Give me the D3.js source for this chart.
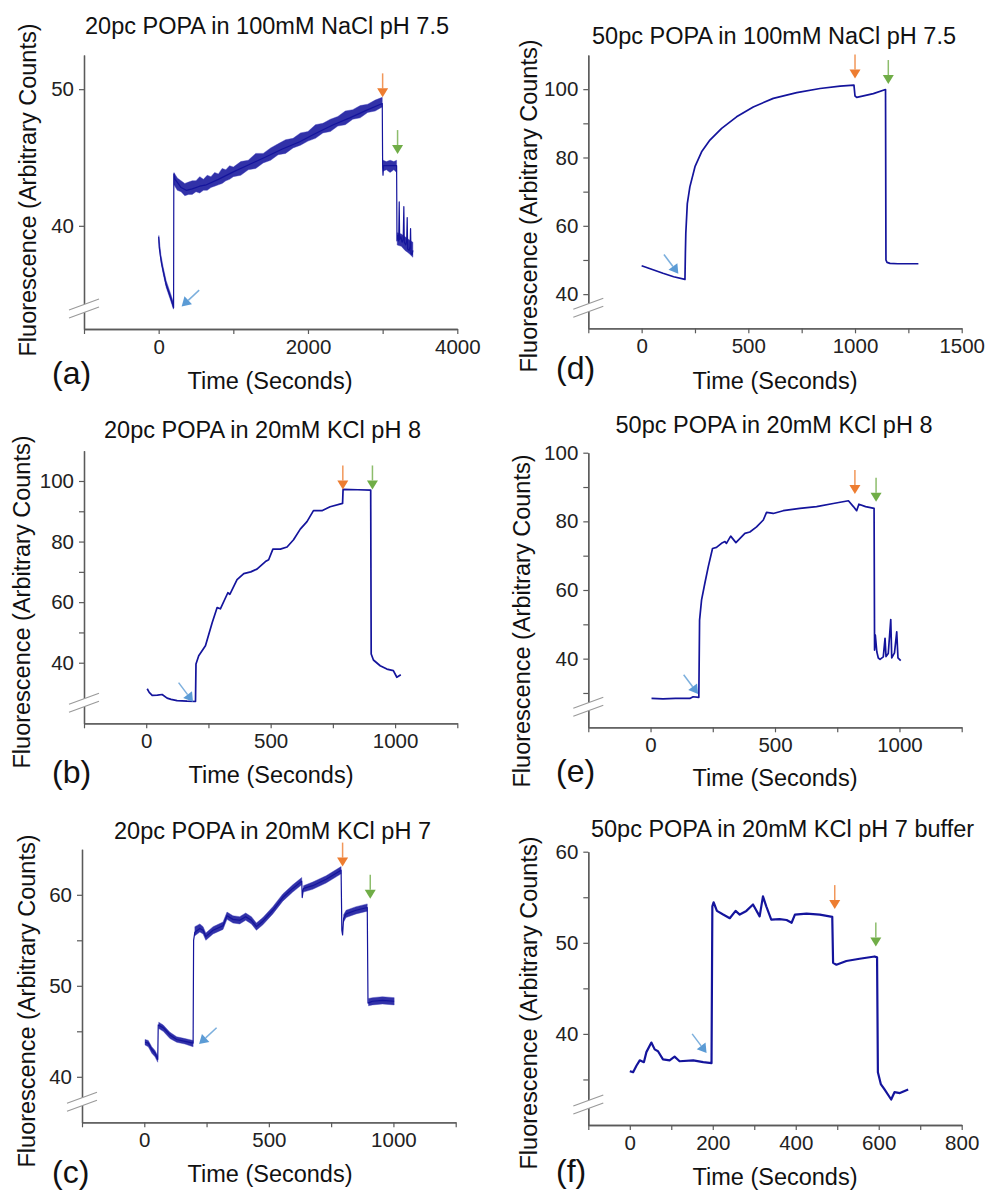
<!DOCTYPE html>
<html>
<head>
<meta charset="utf-8">
<script src="https://cdn.jsdelivr.net/npm/d3@7"></script>
<style>
  body { margin: 0; background: #fff; }
  text { font-family: 'Liberation Sans', Arial, sans-serif; }
</style>
</head>
<body>
<div id="figure"></div>
<script>
// traces: [time (s), fluorescence]
const traceA = [[0,39.2],[8,38.4],[20,37.9],[40,37.2],[60,36.7],[80,36.2],[100,35.7],[125,35.3],[150,34.9],[175,34.5],[195,34.1],[200,34.0],
    [203,43.8],[220,43.4],[260,43.1],[300,42.8],[370,42.6],[450,42.7],[550,42.9],[640,43.0],[800,43.4],[1000,43.95],[1200,44.45],
    [1440,45.05],[1650,45.6],[1890,46.15],[2100,46.75],[2340,47.4],[2560,47.9],[2780,48.45],[2995,48.95],
    [3000,44.3],[3005,43.7],[3012,44.4],[3100,44.4],[3187,44.4],
    [3192,38.9],[3205,39.3],[3215,38.9],[3222,41.75],[3228,39.0],[3245,39.2],[3260,38.8],[3275,39.0],[3284,41.4],[3290,38.8],
    [3310,38.6],[3322,38.9],[3329,40.6],[3335,38.3],[3355,38.2],[3368,38.5],[3374,39.8],[3380,38.0],[3395,37.9],[3405,38.2]];
// noise envelope: [time, low, high], null = gap
const bandA = [[2,38.8,39.3],[30,37.4,37.9],[60,36.5,37.0],[100,35.5,36.0],[150,34.7,35.2],[198,33.9,34.4], null,
    [205,43.0,43.9],[250,42.6,43.5],[300,42.5,43.3],[350,42.2,43.1],[400,42.3,43.2],[450,42.3,43.3],[500,42.5,43.3],[550,42.4,43.6],
    [600,42.6,43.4],[650,42.6,43.7],[700,42.8,43.6],[750,42.9,43.9],[800,43.0,43.8],[850,43.1,44.2],[900,43.3,44.1],[950,43.4,44.4],
    [1000,43.6,44.3],[1100,43.7,44.7],[1200,44.1,44.8],[1300,44.2,45.3],[1400,44.6,45.3],[1500,44.8,45.7],[1600,45.2,46.0],
    [1700,45.3,46.3],[1800,45.7,46.4],[1900,45.9,46.8],[2000,46.2,46.9],[2100,46.4,47.4],[2200,46.8,47.5],[2300,46.9,47.8],
    [2400,47.3,48.0],[2500,47.4,48.4],[2600,47.8,48.5],[2700,47.9,48.8],[2800,48.3,48.9],[2900,48.4,49.2],[2995,48.7,49.4], null,
    [3005,44.0,44.8],[3050,44.1,44.7],[3100,43.9,44.8],[3150,44.1,44.7],[3187,43.9,44.8], null,
    [3195,38.6,39.5],[3250,38.5,39.4],[3300,38.2,39.2],[3350,38.0,39.0],[3405,37.7,38.8]];

const traceB = [[4,31.4],[12,30.2],[24,29.2],[45,29.3],[64,29.5],[84,28.3],[100,27.9],[124,27.5],[164,27.3],[198,27.2],
    [200,39.6],[211,42.3],[238,45.6],[265,53.2],[285,58.2],[298,57.8],[328,63.1],[336,62.6],[365,67.4],[392,69.4],[420,70.0],
    [445,70.9],[479,73.4],[492,74.0],[509,77.5],[539,77.5],[566,78.2],[592,80.6],[619,84.1],[646,86.6],[672,90.2],[706,90.2],
    [739,91.5],[789,92.6],[791,97.2],[850,97.1],[902,97.0],
    [904,42.9],[913,40.9],[940,39.0],[967,37.9],[993,37.4],[1007,35.2],[1023,36.0]];

const traceC = [[3,43.8],[16,43.7],[30,43.0],[43,42.6],[54,41.9],[56,45.7],[76,45.4],[103,44.6],[130,44.1],[163,43.9],[196,43.7],
    [198,55.0],[203,55.9],[223,56.3],[236,56.1],[247,55.4],[276,56.1],[316,56.6],[332,57.7],[356,57.3],[383,57.2],[407,57.6],
    [430,57.2],[450,56.5],[476,57.1],[516,58.3],[556,59.7],[596,60.7],[632,61.5],[634,59.7],[639,60.7],[676,61.0],[730,61.7],
    [790,62.7],[793,56.1],[796,55.6],[800,57.4],[810,57.9],[850,58.3],[895,58.6],
    [898,48.1],[916,48.3],[956,48.4],[1003,48.3]];
const bandC = [[3,43.5,44.1],[16,43.3,44.0],[30,42.6,43.3],[43,42.2,42.9],[54,41.6,42.3], null,
    [58,45.3,46.0],[76,45.0,45.7],[103,44.2,44.9],[130,43.8,44.4],[163,43.6,44.2],[196,43.3,44.0], null,
    [203,55.5,56.5],[223,55.9,56.8],[236,55.7,56.5],[247,55.0,55.8],[276,55.7,56.5],[316,56.2,57.0],[332,57.3,58.1],[356,56.9,57.7],
    [383,56.8,57.6],[407,57.2,58.0],[430,56.8,57.6],[450,56.1,56.9],[476,56.7,57.5],[516,57.9,58.7],[556,59.3,60.1],[596,60.3,61.1],
    [632,61.1,61.9], null,
    [639,60.3,61.0],[676,60.6,61.4],[730,61.3,62.1],[790,62.3,63.1], null,
    [800,57.0,57.8],[810,57.5,58.3],[850,57.9,58.7],[895,58.2,59.0], null,
    [900,47.8,48.6],[916,47.9,48.7],[956,48.0,48.8],[1003,47.9,48.7]];

const traceD = [[0,48.3],[50,47.2],[100,46.1],[150,45.1],[203,44.3],[205,52.0],[207,57.8],[214,66.5],[226,71.4],[250,77.3],
    [281,81.65],[320,85.1],[375,88.5],[445,91.9],[523,94.8],[617,97.3],[727,99.0],[836,100.2],[930,100.9],[995,101.2],
    [1000,98.0],[1008,97.6],[1050,98.2],[1086,98.7],[1143,99.9],
    [1145,50.0],[1150,49.3],[1164,49.0],[1200,48.9],[1250,48.9],[1297,48.9]];

const traceE = [[4,28.4],[50,28.3],[100,28.4],[158,28.4],[171,28.9],[194,28.7],[197,51.2],[205,57.1],[218,61.9],[232,66.8],
    [249,72.1],[265,72.4],[285,73.6],[299,74.1],[305,73.6],[322,75.7],[343,73.8],[379,76.5],[399,76.9],[426,78.4],[453,80.4],
    [466,82.6],[493,82.3],[533,83.1],[600,83.8],[667,84.3],[734,85.2],[795,86.0],[815,84.3],[828,83.1],[837,85.0],[864,84.3],
    [898,83.8],[900,42.5],[903,46.9],[909,42.0],[915,40.2],[922,39.8],[935,40.5],[942,45.9],[946,40.6],[955,41.5],[965,51.4],
    [969,40.2],[980,41.7],[989,47.8],[994,40.2],[1005,39.4]];

const traceF = [[0,35.9],[8,35.8],[16,36.5],[24,37.1],[34,36.9],[40,38.0],[52,39.05],[60,38.3],[68,38.1],[80,37.2],[96,37.1],
    [108,37.5],[120,37.0],[153,37.1],[177,36.9],[197,36.8],[199,54.0],[202,54.45],[210,53.5],[225,53.1],[241,52.7],[255,53.5],
    [265,53.1],[281,53.5],[297,54.2],[313,52.9],[321,55.1],[329,54.0],[341,52.55],[361,52.6],[378,52.5],[390,52.2],[398,53.1],
    [426,53.2],[458,53.1],[488,52.85],[490,47.8],[498,47.6],[522,48.0],[554,48.25],[590,48.5],[596,48.4],
    [598,35.8],[605,34.5],[614,33.9],[630,32.8],[638,33.6],[651,33.5],[671,33.9]];

// event arrows: [event, time, fluorescence at tip]
const arrowsA = [['e1',308,34.1],['e2',3000,49.4],['e3',3200,45.25]];
const arrowsB = [['e1',188,27.1],['e2',790,97.2],['e3',909,97.2]];
const arrowsC = [['e1',220,43.6],['e2',796,63.1],['e3',907,59.56]];
const arrowsD = [['e1',172,46.0],['e2',1000,103.1],['e3',1156,101.5]];
const arrowsE = [['e1',191,29.7],['e2',821,88.0],['e3',906,85.7]];
const arrowsF = [['e1',185,37.9],['e2',494,53.7],['e3',593,49.6]];

// tick values
const xMajorA = [0, 2000, 4000], xMinorA = [-1000, 1000, 3000];
const xMajor1000 = [0, 500, 1000], xMinor1000 = [-250, 250, 750, 1250];
const xMajorD = [0, 500, 1000, 1500], xMinorD = [-250, 250, 750, 1250];
const xMajorF = [0, 200, 400, 600, 800], xMinorF = [-100, 100, 300, 500, 700];
const yMajorA = [40, 50], yMinorA = [];
const yMajor100 = [40, 60, 80, 100], yMinorB = [50, 70, 90], yMinorE = [30, 50, 70, 90];
const yMajorC = [40, 50, 60], yMinorC = [45, 55];
const yMinorF = [35, 45, 55];

const titles = ['20pc POPA in 100mM NaCl pH 7.5', '20pc POPA in 20mM KCl pH 8', '20pc POPA in 20mM KCl pH 7',
    '50pc POPA in 100mM NaCl pH 7.5', '50pc POPA in 20mM KCl pH 8', '50pc POPA in 20mM KCl pH 7 buffer'];

const svgWidth = 985;
const svgHeight = 1191;
const lineColor = '#14149c';
const eventColors = { e1: '#5b9bd5', e2: '#ed7d31', e3: '#70ad47' };

const panels = [
    { letter: '(a)', title: titles[0], trace: traceA, band: bandA, arrows: arrowsA, blueFrom: 'right', lineWidth: 1.2,
      xDomain: [-1000, 4000], yDomain: [32.45, 52.5], xMajor: xMajorA, xMinor: xMinorA, yMajor: yMajorA, yMinor: yMinorA,
      left: 84, right: 457.3, top: 55, bottom: 329, titleX: 267, titleY: 34, yLabelX: 28, yLabelY: 190,
      xLabelX: 270, xLabelY: 389, letterX: 52, letterY: 384 },
    { letter: '(b)', title: titles[1], trace: traceB, band: null, arrows: arrowsB, blueFrom: 'left', lineWidth: 1.7,
      xDomain: [-250, 1250], yDomain: [20, 110], xMajor: xMajor1000, xMinor: xMinor1000, yMajor: yMajor100, yMinor: yMinorB,
      left: 84, right: 457.3, top: 450.7, bottom: 723.3, titleX: 262.5, titleY: 438, yLabelX: 22, yLabelY: 602,
      xLabelX: 271, xLabelY: 783, letterX: 52, letterY: 783 },
    { letter: '(c)', title: titles[2], trace: traceC, band: bandC, arrows: arrowsC, blueFrom: 'right', lineWidth: 1.2,
      xDomain: [-250, 1250], yDomain: [35, 65], xMajor: xMajor1000, xMinor: xMinor1000, yMajor: yMajorC, yMinor: yMinorC,
      left: 82, right: 455.7, top: 849.3, bottom: 1122.3, titleX: 272.5, titleY: 839, yLabelX: 27, yLabelY: 1001,
      xLabelX: 270, xLabelY: 1182, letterX: 52, letterY: 1183 },
    { letter: '(d)', title: titles[3], trace: traceD, band: null, arrows: arrowsD, blueFrom: 'left', lineWidth: 1.7,
      xDomain: [-250, 1500], yDomain: [30, 110], xMajor: xMajorD, xMinor: xMinorD, yMajor: yMajor100, yMinor: yMinorB,
      left: 588.3, right: 961.7, top: 55, bottom: 328.3, titleX: 774, titleY: 44, yLabelX: 529, yLabelY: 206,
      xLabelX: 775, xLabelY: 389, letterX: 556, letterY: 379 },
    { letter: '(e)', title: titles[4], trace: traceE, band: null, arrows: arrowsE, blueFrom: 'left', lineWidth: 1.7,
      xDomain: [-250, 1250], yDomain: [20, 100], xMajor: xMajor1000, xMinor: xMinor1000, yMajor: yMajor100, yMinor: yMinorE,
      left: 588.3, right: 961.7, top: 452.7, bottom: 727.3, titleX: 774, titleY: 433, yLabelX: 522, yLabelY: 621,
      xLabelX: 775, xLabelY: 786, letterX: 556, letterY: 782 },
    { letter: '(f)', title: titles[5], trace: traceF, band: null, arrows: arrowsF, blueFrom: 'left', lineWidth: 2.2,
      xDomain: [-100, 800], yDomain: [30, 60], xMajor: xMajorF, xMinor: xMinorF, yMajor: yMajorC, yMinor: yMinorF,
      left: 588.3, right: 961.7, top: 851.7, bottom: 1125, titleX: 782.5, titleY: 837, yLabelX: 529, yLabelY: 1003,
      xLabelX: 775, xLabelY: 1185, letterX: 556, letterY: 1182 }
];

const svg = d3.select('#figure')
    .append('svg')
    .attr('width', svgWidth)
    .attr('height', svgHeight)
    .attr('viewBox', '0 0 ' + svgWidth + ' ' + svgHeight);

panels.forEach(p => drawPanel(svg, p));

function styleAxis(axisGroup) {
    axisGroup.select('.domain').attr('stroke', '#5a5a5a').attr('stroke-width', 1.3);
    axisGroup.selectAll('.tick line').attr('stroke', '#5a5a5a').attr('stroke-width', 1.2);
    axisGroup.selectAll('.tick text')
        .attr('font-size', 20.5)
        .attr('fill', '#222')
        .attr('font-family', "'Liberation Sans', Arial, sans-serif");
}

function drawPanel(svg, p) {
    const x = d3.scaleLinear().domain(p.xDomain).range([p.left, p.right]);
    const y = d3.scaleLinear().domain(p.yDomain).range([p.bottom, p.top]);
    const g = svg.append('g');
    const plain = d3.format('d');

    // axes: minor ticks first, then labelled majors
    const xMinorAxis = g.append('g')
        .attr('transform', `translate(0, ${p.bottom})`)
        .call(d3.axisBottom(x).tickValues(p.xMinor).tickSize(5).tickSizeOuter(0).tickFormat(''));
    styleAxis(xMinorAxis);
    const xAxis = g.append('g')
        .attr('transform', `translate(0, ${p.bottom})`)
        .call(d3.axisBottom(x).tickValues(p.xMajor).tickSize(5).tickPadding(5).tickSizeOuter(0).tickFormat(plain));
    styleAxis(xAxis);

    const yMinorAxis = g.append('g')
        .attr('transform', `translate(${p.left}, 0)`)
        .call(d3.axisLeft(y).tickValues(p.yMinor).tickSize(5).tickSizeOuter(0).tickFormat(''));
    styleAxis(yMinorAxis);
    const yAxis = g.append('g')
        .attr('transform', `translate(${p.left}, 0)`)
        .call(d3.axisLeft(y).tickValues(p.yMajor).tickSize(5).tickPadding(5).tickSizeOuter(0).tickFormat(plain));
    styleAxis(yAxis);

    // axis break marks
    const breakY = p.bottom - 21;
    g.append('path')
        .attr('d', `M ${p.left - 15} ${breakY + 2} L ${p.left + 15} ${breakY - 9} L ${p.left + 15} ${breakY - 1} L ${p.left - 15} ${breakY + 10} Z`)
        .attr('fill', '#fff');
    [0, 8].forEach(offset => {
        g.append('line')
            .attr('x1', p.left - 15).attr('y1', breakY + 2 + offset)
            .attr('x2', p.left + 15).attr('y2', breakY - 9 + offset)
            .attr('stroke', '#9a9a9a')
            .attr('stroke-width', 1.2);
    });

    // noise envelope
    if (p.band) {
        const area = d3.area()
            .defined(d => d !== null)
            .x(d => x(d[0]))
            .y0(d => y(d[1]))
            .y1(d => y(d[2]));
        g.append('path')
            .attr('d', area(p.band))
            .attr('fill', lineColor)
            .attr('fill-opacity', 0.88)
            .attr('stroke', '#3a3ab8')
            .attr('stroke-opacity', 0.5)
            .attr('stroke-width', 0.8);
    }

    const line = d3.line()
        .x(d => x(d[0]))
        .y(d => y(d[1]));
    g.append('path')
        .attr('d', line(p.trace))
        .attr('fill', 'none')
        .attr('stroke', lineColor)
        .attr('stroke-width', p.lineWidth)
        .attr('stroke-linejoin', 'round');

    // event arrows
    p.arrows.forEach(a => {
        const tipX = x(a[1]);
        const tipY = y(a[2]);
        let dx = 0, dy = -1;
        if (a[0] === 'e1') {
            dx = p.blueFrom === 'right' ? 0.73 : -0.6;
            dy = p.blueFrom === 'right' ? -0.68 : -0.8;
        }
        const len = 24, head = 9, halfWidth = 5.5;
        const baseX = tipX + dx * head, baseY = tipY + dy * head;
        g.append('line')
            .attr('x1', tipX + dx * len).attr('y1', tipY + dy * len)
            .attr('x2', baseX).attr('y2', baseY)
            .attr('stroke', eventColors[a[0]])
            .attr('stroke-opacity', 0.8)
            .attr('stroke-width', 1.5);
        const nx = -dy, ny = dx;
        g.append('path')
            .attr('d', `M ${tipX} ${tipY} L ${baseX + nx * halfWidth} ${baseY + ny * halfWidth} L ${baseX - nx * halfWidth} ${baseY - ny * halfWidth} Z`)
            .attr('fill', eventColors[a[0]]);
    });

    // texts
    g.append('text')
        .attr('x', p.titleX)
        .attr('y', p.titleY)
        .attr('text-anchor', 'middle')
        .attr('font-size', 23.5)
        .attr('fill', '#111')
        .text(p.title);

    g.append('text')
        .attr('transform', `translate(${p.yLabelX}, ${p.yLabelY}) rotate(-90)`)
        .attr('text-anchor', 'middle')
        .attr('dominant-baseline', 'central')
        .attr('font-size', 23.5)
        .attr('fill', '#111')
        .text('Fluorescence (Arbitrary Counts)');

    g.append('text')
        .attr('x', p.xLabelX)
        .attr('y', p.xLabelY)
        .attr('text-anchor', 'middle')
        .attr('font-size', 23.5)
        .attr('fill', '#111')
        .text('Time (Seconds)');

    g.append('text')
        .attr('x', p.letterX)
        .attr('y', p.letterY)
        .attr('font-size', 32)
        .attr('fill', '#111')
        .text(p.letter);
}
</script>
</body>
</html>
